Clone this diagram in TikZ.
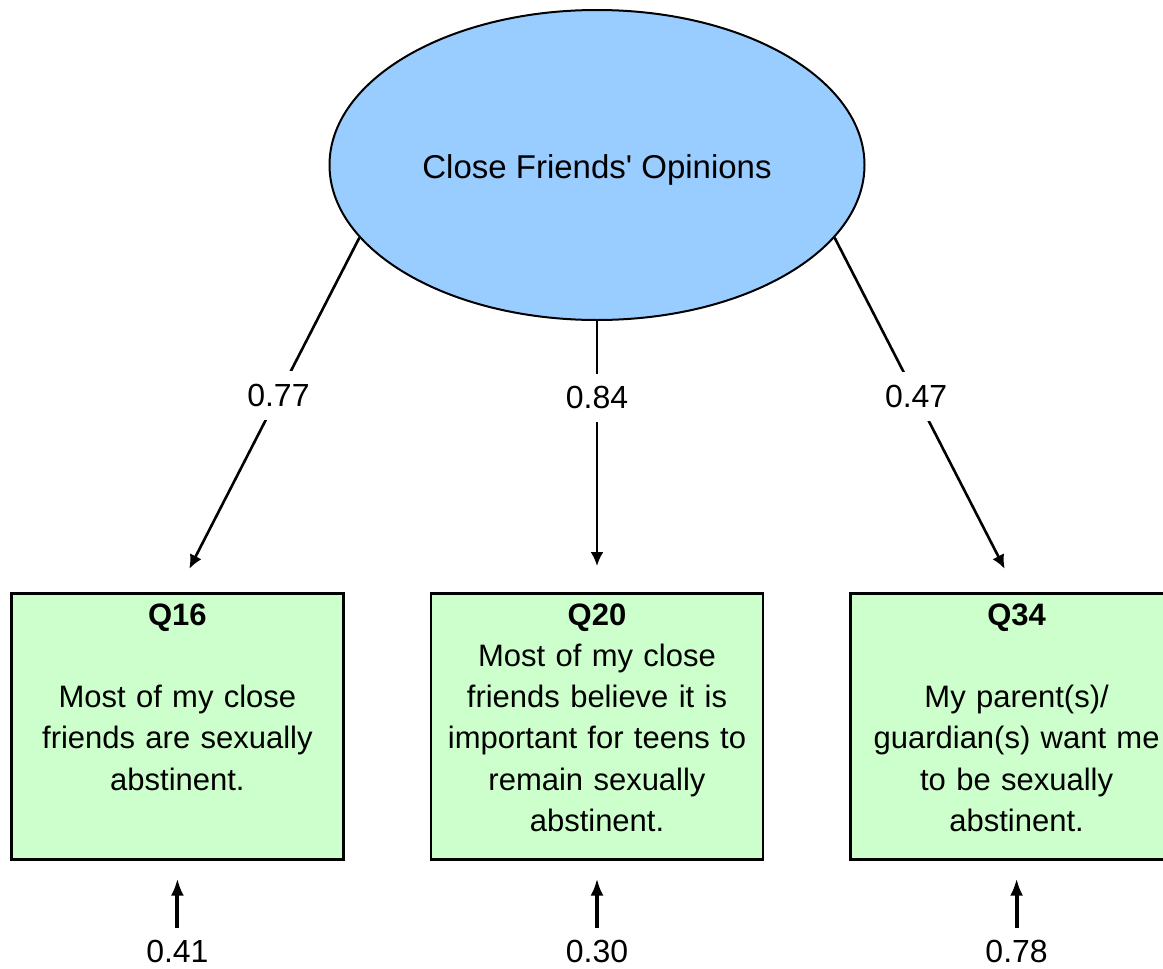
\documentclass[tikz,border=0pt]{standalone}
\usepackage{fontspec}
\setmainfont{Liberation Sans}
\usetikzlibrary{positioning,shapes.geometric,arrows.meta}

\definecolor{factorblue}{HTML}{99CCFF}
\definecolor{itemgreen}{HTML}{CCFFCC}

\tikzset{
	factor/.style={ellipse, draw, line width=1pt, fill=factorblue, minimum width=267.5pt, minimum height=155pt, inner sep=0pt, text height=17.5pt, text depth=3.7pt, font=\fontsize{16.5pt}{20pt}\selectfont},
	item/.style={rectangle, draw, line width=1.3pt, fill=itemgreen, minimum width=166pt, text width=166pt, align=center, inner sep=0pt, text height=16pt, text depth=117pt, font=\fontsize{15.5pt}{20.6pt}\selectfont},
	weight/.style={fill=white, inner sep=6.5pt, font=\fontsize{16pt}{19pt}\selectfont},
	resid/.style={inner sep=6pt, font=\fontsize{16pt}{19pt}\selectfont},
	load/.style={->, >={Latex[length=7pt,width=6.5pt]}, line width=1.3pt, shorten >=13pt},
	residarrow/.style={->, >={Latex[length=8.5pt,width=6.5pt]}, line width=2pt, shorten >=9pt}
}

\begin{document}
\begin{tikzpicture}[x=0.5pt, y=-0.5pt]
	\useasboundingbox (0,0) rectangle (1163,969);

	% Latent factor
	\node[factor] (cfo) at (597,165) {Close Friends\textquotesingle\ Opinions};

	% Observed items
	\node[item, below=135.5pt of cfo] (q20) {\textbf{Q20}\\Most of my close\\friends believe it is\\important for teens to\\remain sexually\\abstinent.};
	\node[item, left=42.5pt of q20] (q16) {\textbf{Q16}\\[20.6pt]Most of my close\\friends are sexually\\abstinent.};
	\node[item, right=42.5pt of q20] (q34) {\textbf{Q34}\\[20.6pt]My parent(s)/\\guardian(s) want me\\to be sexually\\abstinent.};

	% Loadings
	\draw[load] (cfo.197.6) -- node[pos=0.445, weight] (w16) {0.77} (q16.north);
	\draw[load] (cfo.south) -- node[pos=0.284, weight] (w20) {0.84} (q20.north);
	\draw[load] (cfo.343.4) -- node[pos=0.448, weight] (w34) {0.47} (q34.north);

	% Residuals
	\node[resid, below=33.5pt of q16] (e16) {0.41};
	\node[resid, below=33.5pt of q20] (e20) {0.30};
	\node[resid, below=33.5pt of q34] (e34) {0.78};
	\draw[residarrow] (e16.north) -- (q16.south);
	\draw[residarrow] (e20.north) -- (q20.south);
	\draw[residarrow] (e34.north) -- (q34.south);

\end{tikzpicture}
\end{document}
